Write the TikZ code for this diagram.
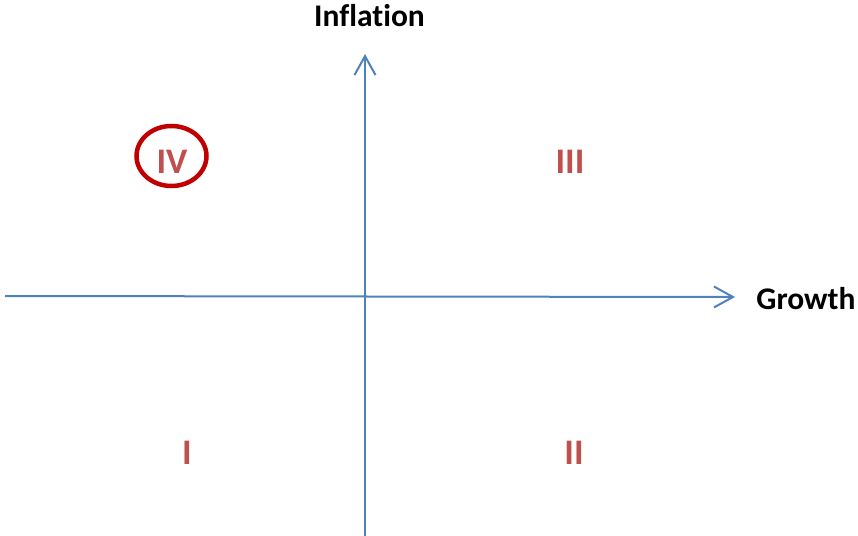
\documentclass[tikz,border=0pt]{standalone}
\usepackage{fontspec}
\setmainfont[Ligatures={NoCommon,NoContextual}]{Carlito}
\usetikzlibrary{arrows.meta}
\definecolor{axisblue}{HTML}{4F81BD}
\definecolor{numred}{HTML}{C0504D}
\definecolor{circred}{HTML}{C00000}
\begin{document}
\begin{tikzpicture}[x=1pt,y=-1pt,
  axis/.style={draw=axisblue,line width=2pt,-{Straight Barb[length=19pt,width=21pt,line width=2pt]}},
  axlabel/.style={font=\fontsize{31.5}{36}\selectfont\bfseries,inner sep=0pt},
  quad/.style={font=\fontsize{36}{42}\selectfont\bfseries,text=numred,inner sep=0pt}]
\useasboundingbox (0,0) rectangle (858,535);
\coordinate (hl) at (5,296);
\coordinate (hr) at (735,297);
\coordinate (vb) at (365,536);
\coordinate (vt) at (365,54);
\draw[axis] (hl) -- (hr);
\draw[axis] (vb) -- (vt);
\node[axlabel] (infl) at (369.5,16) {Inflation};
\node[axlabel] (grow) at (806,299) {Growth};
\node[quad] (q3) at (570,162) {III};
\node[quad] (q4) at (172,162) {IV};
\node[quad] (q1) at (187,453) {I};
\node[quad] (q2) at (574,453) {II};
\draw[circred,line width=4.5pt] (171.5,156) ellipse [x radius=35, y radius=30];
\end{tikzpicture}
\end{document}
